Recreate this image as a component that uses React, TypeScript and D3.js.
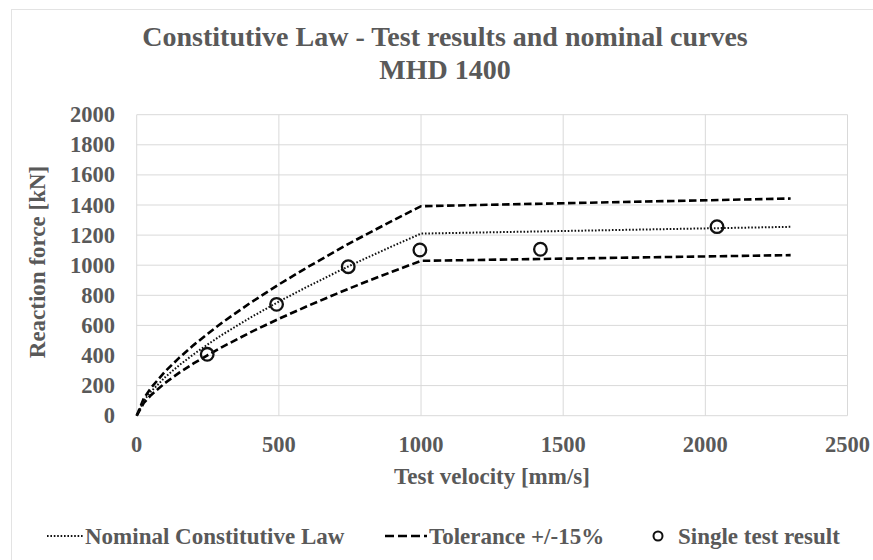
import React from "react";
import * as d3 from "d3";

const velocities = [0, 25, 50, 100, 150, 200, 250, 300, 400, 500, 600, 700, 750, 800, 900, 1000, 2300];
const nominal = [0, 100, 160, 256, 336, 408, 474, 537, 652, 758, 857, 951, 997, 1041, 1127, 1210, 1255];
const upper = [0, 115, 184, 294, 386, 469, 545, 618, 750, 872, 986, 1094, 1147, 1197, 1296, 1392, 1443];
const lower = [0, 85, 136, 218, 286, 347, 403, 456, 554, 644, 728, 808, 847, 885, 958, 1029, 1067];

const testVelocity = [248, 492, 744, 996, 1420, 2041];
const testForce = [408, 740, 990, 1101, 1106, 1256];

const xTicks = [0, 500, 1000, 1500, 2000, 2500];
const yTicks = [0, 200, 400, 600, 800, 1000, 1200, 1400, 1600, 1800, 2000];

const W = 873;
const H = 560;
const FONT = "'Liberation Serif', 'Times New Roman', serif";
const GREY = "#595959";

export default function App() {
  const x = d3.scaleLinear().domain([0, 2500]).range([136.7, 847.5]);
  const y = d3.scaleLinear().domain([0, 2000]).range([415.7, 114.7]);

  const line = d3
    .line<number>()
    .x((_, i) => x(velocities[i]))
    .y((d) => y(d));

  return (
    <svg
      width={W}
      height={H}
      style={{ position: "absolute", left: 0, top: 0, background: "#fff" }}
      fontFamily={FONT}
    >
      <rect x={0} y={0} width={W} height={H} fill="#fff" />
      <rect x={11.5} y={9.5} width={W + 20} height={H + 20} fill="#fff" stroke="#e3e3e3" strokeWidth={1} />

      <text x={445} y={46} textAnchor="middle" fontSize={28} fontWeight="bold" fill={GREY}>
        Constitutive Law - Test results and nominal curves
      </text>
      <text x={445} y={79} textAnchor="middle" fontSize={28} fontWeight="bold" fill={GREY}>
        MHD 1400
      </text>

      {/* gridlines */}
      {yTicks.map((t) => (
        <line key={"gy" + t} x1={x(0)} x2={x(2500)} y1={y(t)} y2={y(t)} stroke="#d9d9d9" strokeWidth={1} />
      ))}
      {xTicks.map((t) => (
        <line key={"gx" + t} x1={x(t)} x2={x(t)} y1={y(0)} y2={y(2000)} stroke="#d9d9d9" strokeWidth={1} />
      ))}

      {/* tick labels */}
      {yTicks.map((t) => (
        <text key={"ty" + t} x={115} y={y(t) + 7.5} textAnchor="end" fontSize={22.5} fontWeight="bold" fill={GREY}>
          {t}
        </text>
      ))}
      {xTicks.map((t) => (
        <text key={"tx" + t} x={x(t)} y={452} textAnchor="middle" fontSize={22.5} fontWeight="bold" fill={GREY}>
          {t}
        </text>
      ))}

      <text x={492} y={484} textAnchor="middle" fontSize={23} fontWeight="bold" fill={GREY}>
        Test velocity [mm/s]
      </text>
      <text
        transform={`translate(45,262) rotate(-90)`}
        textAnchor="middle"
        fontSize={23}
        fontWeight="bold"
        fill={GREY}
      >
        Reaction force [kN]
      </text>

      {/* curves */}
      <path d={line(upper) || ""} fill="none" stroke="#000" strokeWidth={2.6} strokeDasharray="7.5 3.5" />
      <path d={line(lower) || ""} fill="none" stroke="#000" strokeWidth={2.6} strokeDasharray="7.5 3.5" />
      <path d={line(nominal) || ""} fill="none" stroke="#111" strokeWidth={2} strokeDasharray="1.6 1.8" />

      {testVelocity.map((v, i) => (
        <circle key={"p" + i} cx={x(v)} cy={y(testForce[i])} r={6.3} fill="none" stroke="#111" strokeWidth={2.3} />
      ))}

      {/* legend */}
      <line x1={47} x2={83} y1={536} y2={536} stroke="#111" strokeWidth={2} strokeDasharray="1.6 1.8" />
      <text x={85} y={544} fontSize={23} fontWeight="bold" fill={GREY}>
        Nominal Constitutive Law
      </text>
      <line x1={385} x2={427} y1={536} y2={536} stroke="#000" strokeWidth={2.6} strokeDasharray="9 4" />
      <text x={429} y={544} fontSize={23} fontWeight="bold" fill={GREY}>
        Tolerance +/-15%
      </text>
      <circle cx={658} cy={536} r={4.5} fill="none" stroke="#111" strokeWidth={2} />
      <text x={678} y={544} fontSize={23} fontWeight="bold" fill={GREY}>
        Single test result
      </text>
    </svg>
  );
}
